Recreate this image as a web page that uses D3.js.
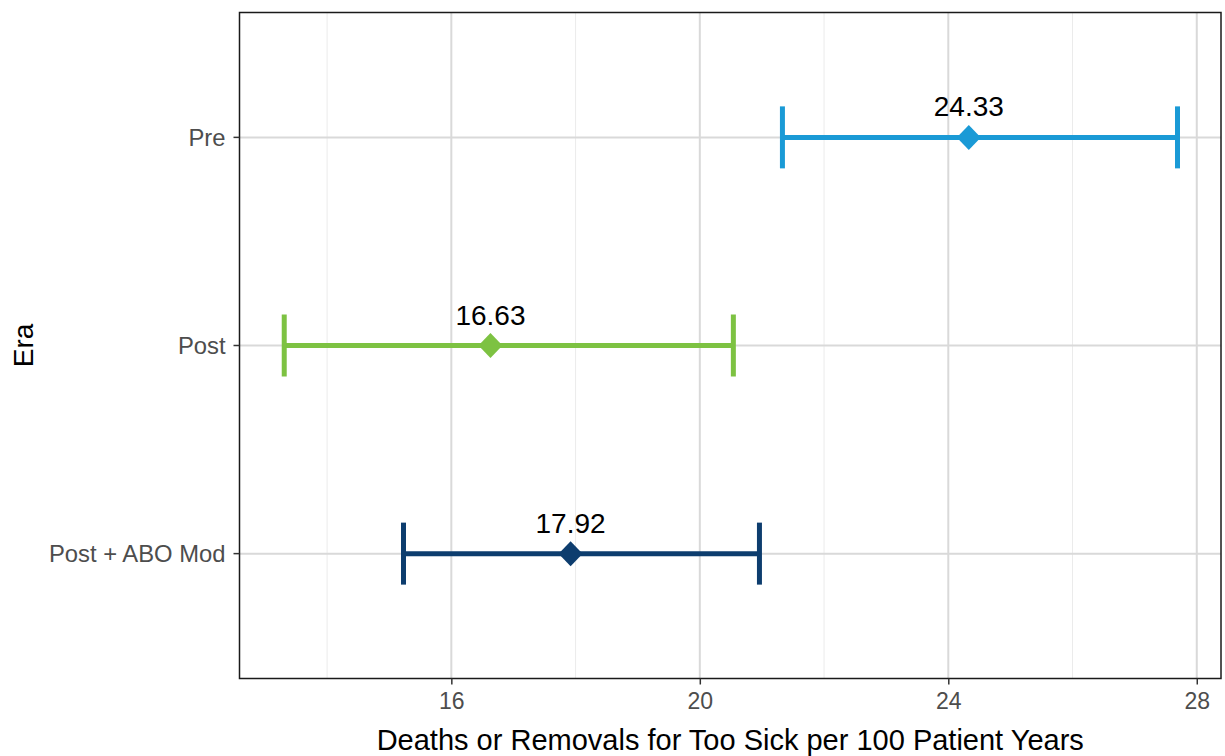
<!DOCTYPE html>
<html><head><meta charset="utf-8">
<script src="https://cdn.jsdelivr.net/npm/d3@7"></script>
<style>body{margin:0;background:#fff;} text{font-family:"Liberation Sans",Arial,sans-serif;}</style>
</head><body>
<svg id="c" width="1225" height="756"></svg>
<script>
const eras = ["Pre", "Post", "Post + ABO Mod"];
const estimates = [24.33, 16.63, 17.92];
const lower = [21.33, 13.31, 15.23];
const upper = [27.69, 20.54, 20.96];
const colors = ["#1a9ad6", "#7dc242", "#0d3d6e"];
const xTicks = [16, 20, 24, 28];
const xMinor = [14, 18, 22, 26];

const svg = d3.select("#c");
const L = 239.5, R = 1221, T = 12.5, B = 678.5;
const x = d3.scaleLinear().domain([12.59, 28.39]).range([L, R]);
const yPos = d3.scaleLinear().domain([3.6, 0.4]).range([T, B]);
const y = e => yPos(3 - eras.indexOf(e));

svg.selectAll(".minor").data(xMinor).enter().append("line")
  .attr("x1", d => x(d)).attr("x2", d => x(d)).attr("y1", T).attr("y2", B)
  .attr("stroke", "#ebebeb").attr("stroke-width", 1);
svg.selectAll(".major").data(xTicks).enter().append("line")
  .attr("x1", d => x(d)).attr("x2", d => x(d)).attr("y1", T).attr("y2", B)
  .attr("stroke", "#d9d9d9").attr("stroke-width", 2);
svg.selectAll(".hg").data(eras).enter().append("line")
  .attr("x1", L).attr("x2", R).attr("y1", d => y(d)).attr("y2", d => y(d))
  .attr("stroke", "#d9d9d9").attr("stroke-width", 2);

const SW = 5;
const g = svg.selectAll(".eb").data(eras).enter().append("g");
g.append("line").attr("x1", (d,i) => x(lower[i])).attr("x2", (d,i) => x(upper[i]))
  .attr("y1", d => y(d)).attr("y2", d => y(d)).attr("stroke", (d,i) => colors[i]).attr("stroke-width", SW);
g.append("line").attr("x1", (d,i) => x(lower[i])).attr("x2", (d,i) => x(lower[i]))
  .attr("y1", d => y(d) - 31).attr("y2", d => y(d) + 31).attr("stroke", (d,i) => colors[i]).attr("stroke-width", SW);
g.append("line").attr("x1", (d,i) => x(upper[i])).attr("x2", (d,i) => x(upper[i]))
  .attr("y1", d => y(d) - 31).attr("y2", d => y(d) + 31).attr("stroke", (d,i) => colors[i]).attr("stroke-width", SW);
g.append("path").attr("d", "M0,-12.5L12,0L0,12.5L-12,0Z")
  .attr("transform", (d,i) => `translate(${x(estimates[i])},${y(d)})`)
  .attr("fill", (d,i) => colors[i]);
g.append("text").attr("x", (d,i) => x(estimates[i])).attr("y", d => y(d) - 21)
  .attr("text-anchor", "middle").attr("font-size", 28).attr("fill", "#000")
  .text((d,i) => estimates[i].toFixed(2));

svg.append("rect").attr("x", L).attr("y", T).attr("width", R - L).attr("height", B - T)
  .attr("fill", "none").attr("stroke", "#1a1a1a").attr("stroke-width", 1.5);

const xa = svg.append("g").attr("transform", `translate(0,${B})`)
  .call(d3.axisBottom(x).tickValues(xTicks).tickSize(6).tickPadding(8).tickFormat(d3.format("d")));
xa.select(".domain").remove();
xa.selectAll("line").attr("stroke", "#333").attr("stroke-width", 1.5);
xa.selectAll("text").style("font-size", "23px").attr("fill", "#4d4d4d");

const ya = svg.append("g").attr("transform", `translate(${L},0)`);
ya.selectAll("line").data(eras).enter().append("line")
  .attr("x1", -6).attr("x2", 0).attr("y1", d => y(d)).attr("y2", d => y(d))
  .attr("stroke", "#333").attr("stroke-width", 1.5);
ya.selectAll("text").data(eras).enter().append("text")
  .attr("x", -14).attr("y", d => y(d)).attr("dy", "0.36em")
  .attr("text-anchor", "end").attr("font-size", 23.8).attr("fill", "#4d4d4d").text(d => d);

svg.append("text").attr("x", (L + R) / 2).attr("y", 750).attr("text-anchor", "middle")
  .attr("font-size", 29).attr("fill", "#000").text("Deaths or Removals for Too Sick per 100 Patient Years");
svg.append("text").attr("transform", `translate(33,${(T + B) / 2}) rotate(-90)`)
  .attr("text-anchor", "middle").attr("font-size", 28).attr("fill", "#000").text("Era");
</script>
</body></html>
